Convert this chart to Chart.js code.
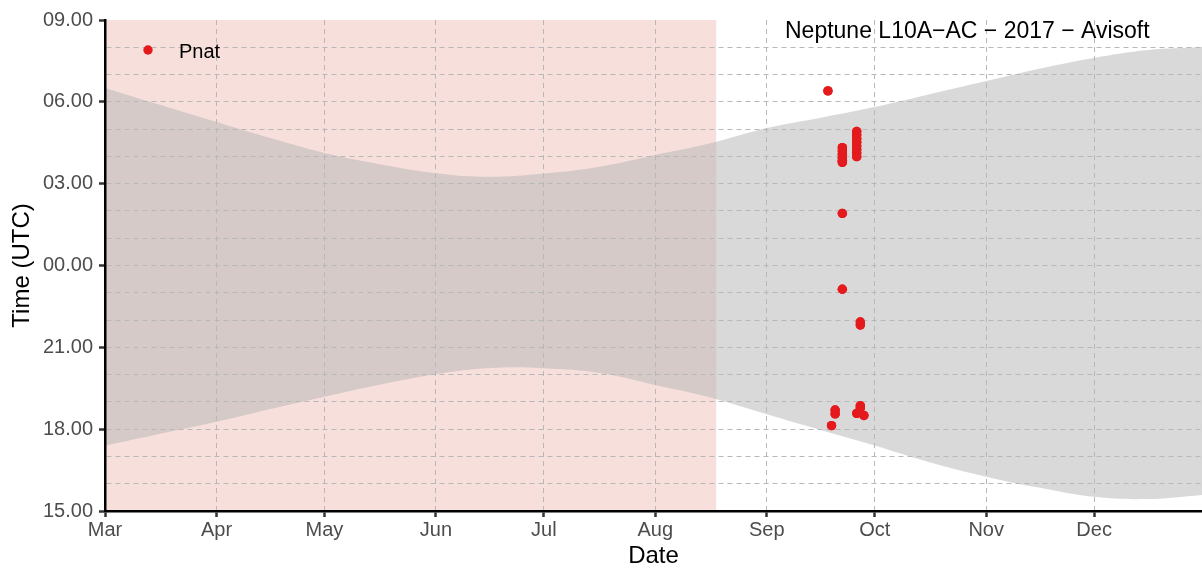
<!DOCTYPE html>
<html>
<head>
<meta charset="utf-8">
<script src="https://cdn.jsdelivr.net/npm/chart.js@4/dist/chart.umd.min.js"></script>
<style>
  html, body { margin: 0; padding: 0; background: #ffffff; }
  #wrap { width: 1202px; height: 571px; position: relative; }
</style>
</head>
<body>
<div id="wrap"><canvas id="c" width="1202" height="571"></canvas></div>
<script>
// ---------- data (days counted from 1 March 2017) ----------
const monthLabels = ['Mar', 'Apr', 'May', 'Jun', 'Jul', 'Aug', 'Sep', 'Oct', 'Nov', 'Dec'];
const monthStartDays = [0, 31, 61, 92, 122, 153, 184, 214, 245, 275];
const yTickLabels = ['15.00', '18.00', '21.00', '00.00', '03.00', '06.00', '09.00'];
const axisStartHour = 15;   // bottom of the time axis (15:00 UTC)
const axisSpanHours = 18;   // 15:00 -> 09:00 next day

// sunrise / sunset (UTC, decimal clock hours)
const lightDays  = [0, 15, 31, 46, 61, 76, 92, 107, 122, 138, 153, 168, 184, 199, 214, 229, 245, 260, 275, 290, 305];
const sunriseUTC = [6.51, 5.90, 5.26, 4.67, 4.12, 3.72, 3.38, 3.25, 3.37, 3.63, 4.05, 4.47, 5.04, 5.42, 5.81, 6.27, 6.76, 7.22, 7.61, 7.90, 8.01];
const sunsetUTC  = [17.39, 17.82, 18.27, 18.74, 19.19, 19.62, 20.01, 20.24, 20.23, 20.05, 19.62, 19.17, 18.55, 17.97, 17.40, 16.80, 16.26, 15.85, 15.52, 15.44, 15.59];

// shaded (pink) period: 1 Mar -> 18 Aug
const shadeDays = [0, 170];

// Pnat detections (day, UTC clock hour)
const pnatDays  = [201, 202, 203, 203, 205, 205, 205, 205, 205, 205, 205, 205,
                   209, 209, 209, 209, 209, 209, 209, 209, 209, 210, 210, 210, 210, 211];
const pnatHours = [6.40, 18.13, 18.70, 18.56, 4.32, 4.20, 4.08, 3.96, 3.86, 3.78, 1.91, 23.13,
                   4.91, 4.78, 4.65, 4.52, 4.38, 4.25, 4.12, 3.99, 18.58, 21.93, 21.82, 18.86, 18.78, 18.50];

const seriesName = 'Pnat';
const chartTitle = 'Neptune L10A\u2212AC \u2212 2017 \u2212 Avisoft';

// ---------- helpers ----------
const toAxis = h => (((h - axisStartHour) % 24) + 24) % 24;
const FONT = "'Liberation Sans', Arial, sans-serif";
const RED = '#E41A1C';
const GRID = '#B8B8B8';

const hourTicks = [];
for (let v = 0; v <= axisSpanHours; v++) hourTicks.push(v);

const overlay = {
  id: 'overlay',
  afterDraw(chart) {
    const ctx = chart.ctx;
    // redraw detections on top of the grid
    const meta = chart.getDatasetMeta(0);
    if (meta && meta.controller) meta.controller.draw();
    ctx.save();
    // title inside plot
    ctx.fillStyle = '#000';
    ctx.font = "23px " + FONT;
    ctx.textAlign = 'left';
    ctx.textBaseline = 'alphabetic';
    ctx.fillText(chartTitle, 785, 38);
    // legend
    ctx.beginPath();
    ctx.arc(148, 50, 4.7, 0, Math.PI * 2);
    ctx.fillStyle = chart.data.datasets[0].backgroundColor;
    ctx.fill();
    ctx.fillStyle = '#000';
    ctx.font = "20px " + FONT;
    ctx.fillText(chart.data.datasets[0].label, 179, 58);
    ctx.restore();
  }
};

new Chart(document.getElementById('c'), {
  type: 'line',
  data: {
    datasets: [
      {
        label: seriesName,
        type: 'scatter',
        data: pnatDays.map((d, i) => ({ x: d, y: toAxis(pnatHours[i]) })),
        backgroundColor: RED,
        borderWidth: 0,
        pointRadius: 4.7,
        pointHoverRadius: 4.7,
        showLine: false,
        order: 0
      },
      {
        label: 'sunrise',
        data: lightDays.map((d, i) => ({ x: d, y: toAxis(sunriseUTC[i]) })),
        borderWidth: 0,
        pointRadius: 0,
        tension: 0.4,
        fill: 2,
        backgroundColor: 'rgba(179,179,179,0.5)',
        order: 1
      },
      {
        label: 'sunset',
        data: lightDays.map((d, i) => ({ x: d, y: toAxis(sunsetUTC[i]) })),
        borderWidth: 0,
        pointRadius: 0,
        tension: 0.4,
        fill: false,
        order: 2
      },
      {
        label: 'shade',
        data: shadeDays.map(d => ({ x: d, y: axisSpanHours })),
        borderWidth: 0,
        pointRadius: 0,
        fill: 'start',
        backgroundColor: 'rgb(247,224,220)',
        order: 3
      }
    ]
  },
  options: {
    responsive: false,
    animation: false,
    events: [],
    layout: { autoPadding: false, padding: { top: 20, right: 0, left: 0, bottom: 0 } },
    plugins: { legend: { display: false }, tooltip: { enabled: false } },
    scales: {
      x: {
        type: 'linear',
        min: 0,
        max: 305,
        afterBuildTicks: s => { s.ticks = monthStartDays.map(v => ({ value: v })); },
        afterFit: s => { s.height = 60; s.paddingRight = 0; s.paddingLeft = 0; },
        ticks: {
          autoSkip: false,
          maxRotation: 0,
          padding: 1,
          color: '#4D4D4D',
          font: { family: FONT, size: 20 },
          callback: v => monthLabels[monthStartDays.indexOf(v)] || ''
        },
        grid: { color: GRID, lineWidth: 1, z: 1, tickColor: '#333333', tickWidth: 2.5, tickLength: 6 },
        border: { display: true, color: '#000', width: 2.5, dash: [5, 4], z: 2 },
        title: { display: true, text: 'Date', color: '#000', font: { family: FONT, size: 24 }, padding: { top: 0, bottom: 0 } }
      },
      y: {
        type: 'linear',
        min: 0,
        max: axisSpanHours,
        afterBuildTicks: s => { s.ticks = hourTicks.map(v => ({ value: v })); },
        afterFit: s => { s.width = 105; },
        ticks: {
          autoSkip: false,
          padding: 6,
          color: '#4D4D4D',
          font: { family: FONT, size: 20 },
          callback: v => (v % 3 === 0 ? yTickLabels[v / 3] : '')
        },
        grid: {
          color: c => (c.tick && c.tick.value === axisSpanHours ? 'rgba(0,0,0,0)' : GRID),
          lineWidth: 1,
          z: 1,
          tickColor: c => (c.tick && c.tick.value % 3 === 0 ? '#333333' : 'rgba(0,0,0,0)'),
          tickWidth: 2.5,
          tickLength: 6
        },
        border: { display: true, color: '#000', width: 2.5, dash: [5, 4], z: 2 },
        title: { display: true, text: 'Time (UTC)', color: '#000', font: { family: FONT, size: 24 }, padding: { top: 8, bottom: 0 } }
      }
    }
  },
  plugins: [overlay]
});
</script>
</body>
</html>
